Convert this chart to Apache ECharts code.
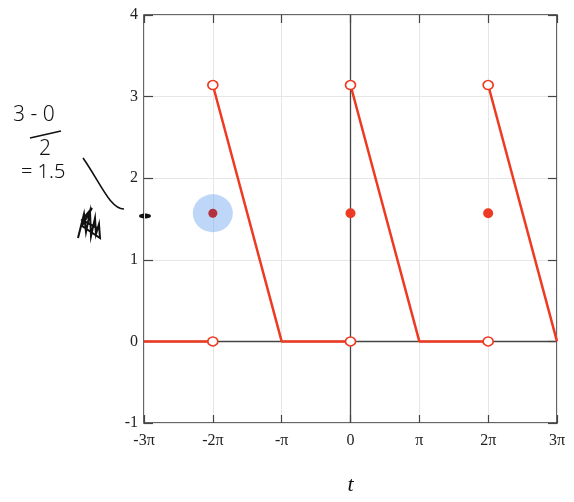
<!DOCTYPE html>
<html><head><meta charset="utf-8">
<script src="https://cdn.jsdelivr.net/npm/echarts@6/dist/echarts.min.js"></script>
<style>html,body{margin:0;padding:0;background:#fff}#c{width:574px;height:502px}</style>
</head><body><div id="c"></div>
<script>
// t is measured in multiples of π
const tTicks = [-3, -2, -1, 0, 1, 2, 3];
const tTickLabels = ['-3π', '-2π', '-π', '0', 'π', '2π', '3π'];
const yTickLabels = ['-1', '0', '1', '2', '3', '4'];

// sawtooth pieces (t in units of π, f(t))
const piece1T = [-3, -2];        const piece1F = [0, 0];
const piece2T = [-2, -1, 0];     const piece2F = [3.1416, 0, 0];
const piece3T = [0, 1, 2];       const piece3F = [3.1416, 0, 0];
const piece4T = [2, 3];          const piece4F = [3.1416, 0];

// jump end points (open) and midpoint values at the jumps
const openT = [-2, -2, 0, 0, 2, 2];
const openF = [3.1416, 0, 3.1416, 0, 3.1416, 0];
const midT = [0, 2];
const midF = [1.5708, 1.5708];
const highlightT = [-2];
const highlightF = [1.5708];

const RED = '#ee3a22';
const zip = (a, b) => a.map((v, i) => [v, b[i]]);
const serif = 'Liberation Serif';

const chart = echarts.init(document.getElementById('c'), null, {renderer: 'canvas'});

const lineSeries = (t, f) => ({
  type: 'line', data: zip(t, f), symbol: 'none', z: 5,
  lineStyle: {color: RED, width: 2.5}
});

const tickStyle = (len) => ({show: true, inside: true, length: len, lineStyle: {color: '#444', width: 1.2}});

chart.setOption({
  animation: false,
  grid: {left: 144, right: 17, top: 15, bottom: 79, show: true,
         borderColor: '#333', borderWidth: 1.5, backgroundColor: 'transparent'},
  xAxis: [{
    type: 'value', min: -3, max: 3, interval: 1,
    name: 't', nameLocation: 'middle', nameGap: 51,
    nameTextStyle: {fontFamily: serif, fontStyle: 'italic', fontSize: 22, color: '#111'},
    axisLine: {show: false, onZero: false},
    axisTick: tickStyle(8),
    axisLabel: {fontFamily: serif, fontSize: 16, color: '#222', margin: 10,
      formatter: v => tTickLabels[tTicks.indexOf(v)]},
    splitLine: {show: true, lineStyle: {color: '#e6e6e6', width: 1}}
  }, {
    type: 'value', position: 'top', min: -3, max: 3, interval: 1,
    axisLine: {show: false, onZero: false},
    axisTick: tickStyle(8),
    axisLabel: {show: false}, splitLine: {show: false}
  }],
  yAxis: [{
    type: 'value', min: -1, max: 4, interval: 1,
    axisLine: {show: false, onZero: false},
    axisTick: tickStyle(9),
    axisLabel: {fontFamily: serif, fontSize: 16, color: '#222', margin: 6,
      formatter: v => yTickLabels[v + 1]},
    splitLine: {show: true, lineStyle: {color: '#e6e6e6', width: 1}}
  }, {
    type: 'value', position: 'right', min: -1, max: 4, interval: 1,
    axisLine: {show: false, onZero: false},
    axisTick: tickStyle(9),
    axisLabel: {show: false}, splitLine: {show: false}
  }],
  series: [
    {
      // coordinate axes through the origin
      type: 'line', data: [], z: 2,
      markLine: {
        silent: true, symbol: 'none', label: {show: false}, animation: false,
        lineStyle: {color: '#444', width: 1.3, type: 'solid'},
        data: [{xAxis: 0}, {yAxis: 0}]
      }
    },
    lineSeries(piece1T, piece1F),
    lineSeries(piece2T, piece2F),
    lineSeries(piece3T, piece3F),
    lineSeries(piece4T, piece4F),
    {
      // highlighted region around the first midpoint
      type: 'scatter', data: zip(highlightT, highlightF), symbol: 'circle',
      symbolSize: [40, 38], z: 6,
      itemStyle: {color: 'rgba(100,160,240,0.42)', opacity: 1}
    },
    {
      type: 'scatter', data: zip(highlightT, highlightF), symbol: 'circle', symbolSize: 9, z: 7,
      itemStyle: {color: '#b4323e', opacity: 1}
    },
    {
      type: 'scatter', data: zip(midT, midF), symbol: 'circle', symbolSize: 10, z: 7,
      itemStyle: {color: RED, opacity: 1}
    },
    {
      type: 'scatter', data: zip(openT, openF), symbol: 'circle',
      symbolSize: [10, 9], z: 8,
      itemStyle: {color: '#fff', borderColor: RED, borderWidth: 1.6, opacity: 1}
    }
  ],
  graphic: [
    {type: 'text', left: 13, top: 105,
     style: {text: '3 - 0', font: '300 21px "Noto Sans"', fill: '#111'}},
    {type: 'line', shape: {x1: 30, y1: 138, x2: 61, y2: 131},
     style: {stroke: '#111', lineWidth: 1.6}},
    {type: 'text', left: 39, top: 139,
     style: {text: '2', font: '300 21px "Noto Sans"', fill: '#111'}},
    {type: 'text', left: 21, top: 162,
     style: {text: '= 1.5', font: '300 20px "Noto Sans"', fill: '#111'}},
    {type: 'bezierCurve',
     shape: {x1: 83, y1: 158, x2: 124, y2: 209, cpx1: 100, cpy1: 182, cpx2: 110, cpy2: 209},
     style: {stroke: '#111', lineWidth: 1.6, fill: null}},
    {type: 'polyline',
     shape: {points: [[78, 238], [84, 214], [86, 232], [90, 212], [91, 236], [95, 218], [96, 234],
                      [99, 224], [100, 238], [82, 226], [92, 208], [82, 220], [97, 228]]},
     style: {stroke: '#111', lineWidth: 2, fill: null}},
    {type: 'ellipse', shape: {cx: 145, cy: 216, rx: 6, ry: 2.5},
     style: {fill: '#111'}}
  ]
});
</script>
</body></html>
